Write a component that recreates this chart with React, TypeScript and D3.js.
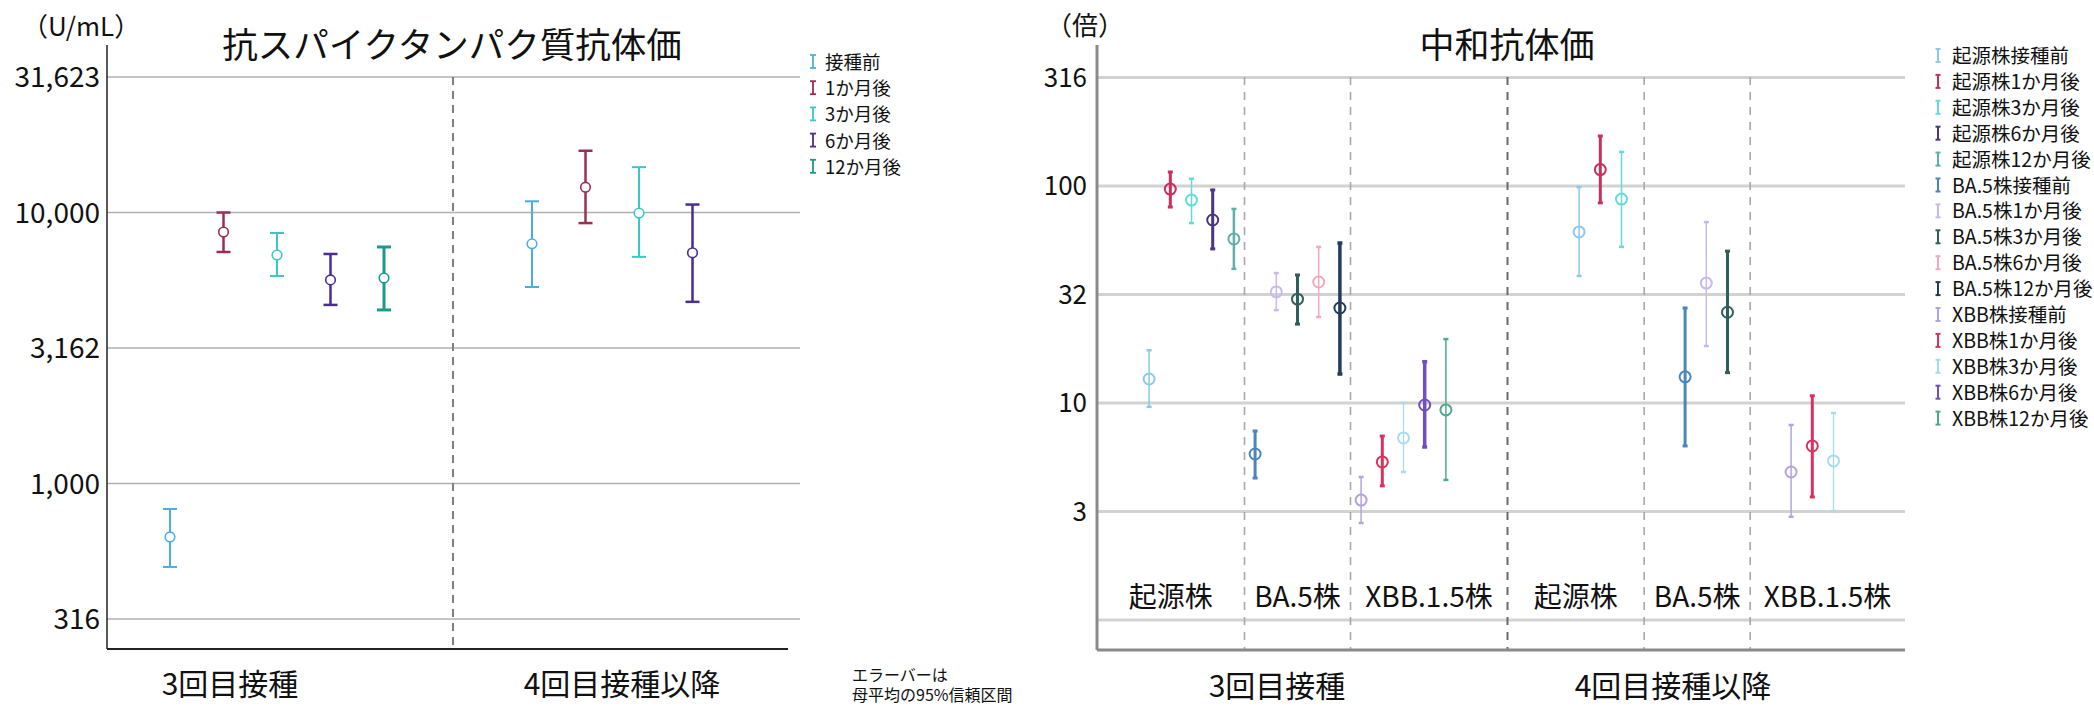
import React from 'react';
import * as d3 from 'd3';

// ---------- Left chart data ----------
const leftGroups = ['3回目接種', '4回目接種以降'];
const leftSeries = ['接種前', '1か月後', '3か月後', '6か月後', '12か月後'];
const leftMean3 = [635, 8470, 6970, 5640, 5730];
const leftLow3 = [492, 7150, 5830, 4560, 4370];
const leftHigh3 = [805, 10000, 8400, 7030, 7460];
const leftMean4: (number | null)[] = [7660, 12400, 9950, 7100, null];
const leftLow4: (number | null)[] = [5310, 9140, 6860, 4680, null];
const leftHigh4: (number | null)[] = [11000, 16900, 14700, 10700, null];
const leftTicks = [316.2, 1000, 3162, 10000, 31623];
const leftTickLabels = ['316', '1,000', '3,162', '10,000', '31,623'];

// ---------- Right chart data ----------
const rightGroups = ['3回目接種', '4回目接種以降'];
const rightSeries = [
  '起源株接種前', '起源株1か月後', '起源株3か月後', '起源株6か月後', '起源株12か月後',
  'BA.5株接種前', 'BA.5株1か月後', 'BA.5株3か月後', 'BA.5株6か月後', 'BA.5株12か月後',
  'XBB株接種前', 'XBB株1か月後', 'XBB株3か月後', 'XBB株6か月後', 'XBB株12か月後',
];
const rightMean3 = [12.9, 96.8, 86.1, 69.7, 57.0, 5.82, 32.5, 30.1, 36.1, 27.4, 3.57, 5.35, 6.9, 9.79, 9.29];
const rightLow3 = [9.6, 80.0, 67.5, 51.3, 41.5, 4.51, 26.8, 23.1, 24.9, 13.6, 2.8, 4.15, 4.81, 6.27, 4.42];
const rightHigh3 = [17.5, 116, 108, 95.9, 78.4, 7.43, 39.7, 38.9, 52.4, 54.6, 4.56, 7.04, 10.0, 15.5, 19.7];
const rightMean4: (number | null)[] = [61.4, 119, 87.0, null, null, 13.2, 35.7, 26.2, null, null, 4.81, 6.34, 5.41, null, null];
const rightLow4: (number | null)[] = [38.5, 83.6, 52.4, null, null, 6.34, 18.3, 13.8, null, null, 2.99, 3.69, 3.18, null, null];
const rightHigh4: (number | null)[] = [98.9, 170, 143.6, null, null, 27.4, 68.2, 50.1, null, null, 7.92, 10.8, 8.99, null, null];
const rightTicks = [1, 3.162, 10, 31.62, 100, 316.2];
const rightTickLabels = ['', '3', '10', '32', '100', '316'];
const strainLabels = ['起源株', 'BA.5株', 'XBB.1.5株'];
const subDividerSlots = [[4.5, 9.5], [3.07, 8.07]];

// ---------- Styles ----------
const leftColors = ['#4aaee6', '#9a2f52', '#36c9c6', '#4b2c91', '#1a9a8c'];
const leftWidths = [2, 2.5, 2, 2.5, 3];
const rightColors = ['#8cc8ee', '#c8305c', '#62dcd8', '#4a3585', '#5fb0a8', '#4a86bc', '#c9b9ef', '#2f5f5a',
  '#f2a9bb', '#223c5c', '#b3a3e3', '#d8325f', '#a7dcec', '#6f4fc0', '#4fa98e'];
const rightWidths = [1.5, 3, 1.5, 3, 2.5, 3, 1.5, 3, 1.5, 3.5, 1.5, 3, 1.3, 3.5, 1.5];

const FONT = '"Noto Sans CJK JP", "Noto Sans", sans-serif';

export default function App() {
  // Left scales
  const lAxisX = 107, lRight = 800, lTop = 45, lBottom = 649;
  const yL = d3.scaleLog().domain([316.2, 31623]).range([619, 77]);
  const xLG = d3.scaleBand<string>().domain(leftGroups).range([96, 820]);
  const xLS = d3.scalePoint<string>().domain(leftSeries).range([-107, 107]);
  const leftData = [
    { g: leftGroups[0], mean: leftMean3, low: leftLow3, high: leftHigh3 },
    { g: leftGroups[1], mean: leftMean4, low: leftLow4, high: leftHigh4 },
  ];
  const lDivider = (xLG(leftGroups[1]) as number) - 5;

  // Right scales
  const rAxisX = 1097, rRight = 1905, rTop = 45, rBottom = 650;
  const yR = d3.scaleLog().domain([1, 316.2]).range([620, 77.5]);
  const xRG = d3.scaleBand<string>().domain(rightGroups).range([1082.5, 1942.5]);
  const xRS = d3.scalePoint<string>().domain(rightSeries).range([-148.4, 148.4]);
  const slotW = xRS.step();
  const rightData = [
    { g: rightGroups[0], mean: rightMean3, low: rightLow3, high: rightHigh3 },
    { g: rightGroups[1], mean: rightMean4, low: rightLow4, high: rightHigh4 },
  ];
  const rMain = xRG(rightGroups[1]) as number - 5;
  const slotX = (gi: number, s: number) =>
    (xRG(rightGroups[gi]) as number) + xRG.bandwidth() / 2 + (xRS(rightSeries[0]) as number) + s * slotW;
  const subDivs = subDividerSlots.map((arr, gi) => arr.map((s) => slotX(gi, s)));
  const edges = [
    [rAxisX, subDivs[0][0], subDivs[0][1], rMain],
    [rMain, subDivs[1][0], subDivs[1][1], rRight],
  ];

  return (
    <svg width={2094} height={707} style={{ position: 'absolute', left: 0, top: 0, background: '#fff' }}
      fontFamily={FONT}>
      {/* ================= LEFT CHART ================= */}
      <text x={22} y={36} fontSize={26} fill="#111">（U/mL）</text>
      <text x={452} y={58} fontSize={35.5} textAnchor="middle" fill="#111">抗スパイクタンパク質抗体価</text>
      {leftTicks.map((t, i) => (
        <g key={'lt' + i}>
          <line x1={lAxisX} x2={lRight} y1={yL(t)} y2={yL(t)} stroke="#b0b0b0" strokeWidth={1.5} />
          <text x={100} y={yL(t)} dy="0.36em" fontSize={28} textAnchor="end" fill="#111">{leftTickLabels[i]}</text>
        </g>
      ))}
      <line x1={lDivider} x2={lDivider} y1={77} y2={lBottom} stroke="#808080" strokeWidth={2} strokeDasharray="8,6" />
      <line x1={lAxisX} x2={lAxisX} y1={lTop} y2={lBottom} stroke="#222" strokeWidth={1.5} />
      <line x1={lAxisX} x2={788} y1={lBottom} y2={lBottom} stroke="#222" strokeWidth={2} />
      {leftData.map((gd) =>
        leftSeries.map((s, i) => {
          const m = gd.mean[i];
          if (m == null) return null;
          const cx = (xLG(gd.g) as number) + xLG.bandwidth() / 2 + (xLS(s) as number);
          const yl = yL(gd.low[i] as number), yh = yL(gd.high[i] as number), ym = yL(m);
          const c = leftColors[i], w = leftWidths[i];
          return (
            <g key={gd.g + s}>
              <line x1={cx} x2={cx} y1={yh} y2={yl} stroke={c} strokeWidth={w} />
              <line x1={cx - 7} x2={cx + 7} y1={yh} y2={yh} stroke={c} strokeWidth={w} />
              <line x1={cx - 7} x2={cx + 7} y1={yl} y2={yl} stroke={c} strokeWidth={w} />
              <circle cx={cx} cy={ym} r={4.8} fill="#fff" stroke={c} strokeWidth={1.6} />
            </g>
          );
        })
      )}
      <text x={230} y={695} fontSize={30} textAnchor="middle" fill="#111">{leftGroups[0]}</text>
      <text x={622} y={695} fontSize={30} textAnchor="middle" fill="#111">{leftGroups[1]}</text>
      {/* left legend */}
      {leftSeries.map((s, i) => {
        const y = 62 + i * 26.2;
        const c = leftColors[i];
        return (
          <g key={'ll' + i}>
            <line x1={813} x2={813} y1={y - 7} y2={y + 6} stroke={c} strokeWidth={1.8} />
            <line x1={810} x2={816} y1={y - 7} y2={y - 7} stroke={c} strokeWidth={1.8} />
            <line x1={810} x2={816} y1={y + 6} y2={y + 6} stroke={c} strokeWidth={1.8} />
            <text x={825} y={y} dy="0.38em" fontSize={18.5} fill="#111">{s}</text>
          </g>
        );
      })}
      <text x={852} y={681} fontSize={16} fill="#111">エラーバーは</text>
      <text x={852} y={701} fontSize={16} fill="#111">母平均の95%信頼区間</text>

      {/* ================= RIGHT CHART ================= */}
      <text x={1046} y={35} fontSize={26} fill="#111">（倍）</text>
      <text x={1507} y={58} fontSize={35} textAnchor="middle" fill="#111">中和抗体価</text>
      {rightTicks.map((t, i) => (
        <g key={'rt' + i}>
          <line x1={rAxisX} x2={rRight} y1={yR(t)} y2={yR(t)} stroke="#d2d2d2" strokeWidth={3} />
          <text x={1087} y={yR(t)} dy="0.36em" fontSize={26} textAnchor="end" fill="#111">{rightTickLabels[i]}</text>
        </g>
      ))}
      {subDivs.flat().map((x, i) => (
        <line key={'sd' + i} x1={x} x2={x} y1={77} y2={rBottom} stroke="#a8a8a8" strokeWidth={1.6} strokeDasharray="8,7" />
      ))}
      <line x1={rMain} x2={rMain} y1={77} y2={rBottom} stroke="#6a6a6a" strokeWidth={2} strokeDasharray="8,7" />
      <line x1={rAxisX} x2={rAxisX} y1={rTop} y2={rBottom} stroke="#8a8a8a" strokeWidth={3} />
      <line x1={rAxisX} x2={rRight} y1={rBottom} y2={rBottom} stroke="#8a8a8a" strokeWidth={3} />
      {rightData.map((gd) =>
        rightSeries.map((s, i) => {
          const m = gd.mean[i];
          if (m == null) return null;
          const cx = (xRG(gd.g) as number) + xRG.bandwidth() / 2 + (xRS(s) as number);
          const yl = yR(gd.low[i] as number), yh = yR(gd.high[i] as number), ym = yR(m);
          const c = rightColors[i], w = rightWidths[i];
          return (
            <g key={gd.g + s}>
              <line x1={cx} x2={cx} y1={yh} y2={yl} stroke={c} strokeWidth={w} />
              <line x1={cx - 2.5} x2={cx + 2.5} y1={yh} y2={yh} stroke={c} strokeWidth={Math.max(w, 2.5)} />
              <line x1={cx - 2.5} x2={cx + 2.5} y1={yl} y2={yl} stroke={c} strokeWidth={Math.max(w, 2.5)} />
              <circle cx={cx} cy={ym} r={5.5} fill="none" stroke={c} strokeWidth={2} />
            </g>
          );
        })
      )}
      {edges.map((e, gi) =>
        strainLabels.map((l, k) => (
          <text key={'sl' + gi + k} x={(e[k] + e[k + 1]) / 2} y={607} fontSize={28} textAnchor="middle" fill="#111">{l}</text>
        ))
      )}
      <text x={1277} y={697} fontSize={30} textAnchor="middle" fill="#111">{rightGroups[0]}</text>
      <text x={1673} y={697} fontSize={30} textAnchor="middle" fill="#111">{rightGroups[1]}</text>
      {/* right legend */}
      {rightSeries.map((s, i) => {
        const y = 56 + i * 25.9;
        const c = rightColors[i];
        return (
          <g key={'rl' + i}>
            <line x1={1938} x2={1938} y1={y - 7} y2={y + 6} stroke={c} strokeWidth={2} />
            <line x1={1935.5} x2={1940.5} y1={y - 7} y2={y - 7} stroke={c} strokeWidth={2} />
            <line x1={1935.5} x2={1940.5} y1={y + 6} y2={y + 6} stroke={c} strokeWidth={2} />
            <text x={1952} y={y} dy="0.36em" fontSize={19.5} fill="#111">{s}</text>
          </g>
        );
      })}
    </svg>
  );
}
